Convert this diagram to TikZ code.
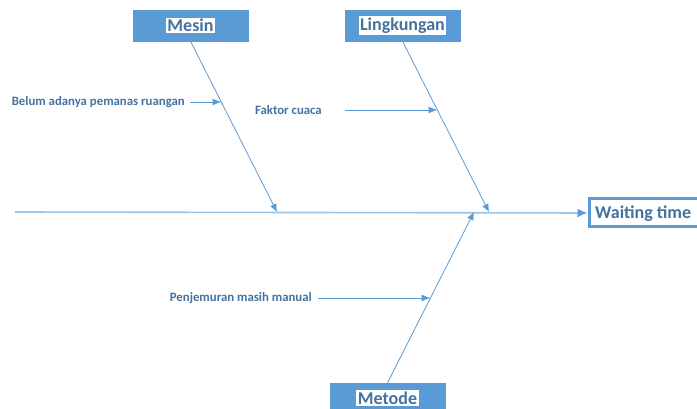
\documentclass[tikz,border=0pt]{standalone}
\usepackage{fontspec}
\setmainfont{Carlito}
\usetikzlibrary{arrows.meta,calc}
\definecolor{boxblue}{HTML}{5B9BD5}
\definecolor{txtblue}{HTML}{44729F}
\definecolor{mainline}{HTML}{9DC3E6}
\tikzset{
  catbox/.style={draw=boxblue,fill=boxblue,minimum width=115pt,minimum height=31pt,inner sep=0pt},
  cattext/.style={fill=white,text=txtblue,font=\bfseries\fontsize{18}{20}\selectfont,inner sep=1.5pt},
  causetext/.style={text=txtblue,font=\bfseries\fontsize{12.8}{14}\selectfont,inner sep=0pt,anchor=east},
  bone/.style={draw=boxblue,line width=0.8pt,-{Latex[length=8pt,width=7pt]}},
  sub/.style={draw=boxblue,line width=0.8pt,-{Latex[length=9pt,width=7pt]}},
}
\begin{document}
\begin{tikzpicture}[x=1pt,y=-1pt]
\clip (0,0) rectangle (697,409);
\useasboundingbox (0,0) rectangle (697,409);
% category boxes
\node[catbox] (mesin) at (190.5,25.5) {};
\node[cattext] (mesintxt) at (mesin.center) {Mesin};
\node[catbox] (lingk) at (402.5,25.5) {};
\node[cattext] (lingktxt) at (lingk.center) {Lingkungan};
\node[catbox,minimum height=34pt] (metode) at (387.5,400) {};
\node[cattext] (metodetxt) at (387.5,398) {Metode};
\node[draw=boxblue,line width=3pt,fill=white,minimum width=118pt,minimum height=28pt,inner sep=0pt] (wait) at (648,213) {};
\node[text=txtblue,font=\bfseries\fontsize{18}{20}\selectfont,anchor=west,inner sep=0pt] (waittxt) at (595,214) {Waiting time};
% main line
\coordinate (tail) at (15,212);
\draw[draw=mainline,line width=1.6pt,-{Latex[length=10pt,width=9pt,color=boxblue]}] (tail) -- (wait.west);
% bone ends
\coordinate (m1) at (277,212);
\coordinate (m2) at (489,212);
\coordinate (m3) at (474,212);
\draw[bone] (mesin.south) -- (m1);
\draw[bone] (lingk.south) -- (m2);
\draw[bone] (metode.north) -- (m3);
% causes
\node[causetext] (c1) at (185,102) {Belum adanya pemanas ruangan};
\coordinate (c1e) at (221.5,102);
\draw[sub] ($(c1.east)+(5,0)$) -- (c1e);
\node[causetext] (c2) at (322,110) {Faktor cuaca};
\coordinate (c2e) at (437.5,110);
\draw[sub] ($(c2.east)+(23,0)$) -- (c2e);
\node[causetext] (c3) at (312,298) {Penjemuran masih manual};
\coordinate (c3e) at (430.5,298);
\draw[sub] ($(c3.east)+(6,0)$) -- (c3e);
\end{tikzpicture}
\end{document}
